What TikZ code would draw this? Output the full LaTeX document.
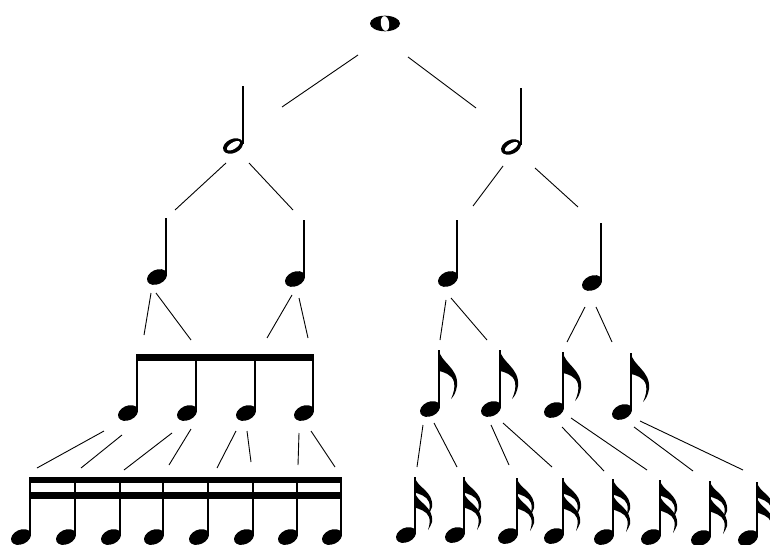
\documentclass[tikz,border=0pt]{standalone}
\begin{document}
\begin{tikzpicture}[x=1pt,y=-1pt,
  link/.style={line width=0.9pt},
  stemline/.style={line width=1.4pt},
  notehead/.pic={\fill[rotate=25] (0,0) ellipse (10.5 and 7.2);},
  hollowhead/.pic={\fill[rotate=25] (0,0) ellipse (10.5 and 7);
                   \fill[white,rotate=32] (0.5,0) ellipse (7.4 and 3.2);},
  qnote/.pic={\path (-9,0) pic {notehead}; \draw[stemline] (0,-2) -- (0,-#1);},
  hnote/.pic={\path (-10,0) pic {hollowhead}; \draw[stemline] (0,-2) -- (0,-#1);},
  flagone/.pic={\fill (0,0) .. controls (1,12) and (20,18) .. (18,36)
                 .. controls (17,42) and (15,46) .. (12,49)
                 .. controls (15,42) and (16,38) .. (15,32)
                 .. controls (13,24) and (4,22) .. (0,21) -- cycle;},
  flagtwo/.pic={\fill (0,0) .. controls (1,10) and (19,14) .. (17,30)
                 .. controls (16,33) and (15,35) .. (13,38)
                 .. controls (15,32) and (15,28) .. (14,25)
                 .. controls (12,19) and (4,17) .. (0,15.5) -- cycle;}
]
\useasboundingbox (0,0) rectangle (770,545);
\clip (0,0) rectangle (770,545);

% whole note
\coordinate (w) at (385,23.5);
\fill (w) ellipse (15 and 7.8);
\fill[white,rotate around={8:(w)}] (w) ellipse (4.2 and 7.4);

% half notes
\pic (h1) at (243,146) {hnote=60};
\pic (h2) at (521,147) {hnote=59};

% quarter notes
\pic (q1) at (166,277) {qnote=59};
\pic (q2) at (304,279) {qnote=59};
\pic (q3) at (457,279) {qnote=59};
\pic (q4) at (601,283) {qnote=60};

% beamed eighths
\fill (136,354) rectangle (314,361);
\foreach \s [count=\i] in {137,196,255,313}{
  \pic (eb\i) at (\s,413) {qnote=59};
}

% flagged eighths (stem x / head y / stem top y / stem length)
\foreach \s/\h/\t/\L [count=\i] in {439/409/350/59,500/409/350/59,563/410/352/58,631/412/353/59}{
  \pic (ef\i) at (\s,\h) {qnote=\L};
  \pic (efl\i) at (\s,\t) {flagone};
}

% beamed sixteenths
\fill (29,477) rectangle (342,483);
\fill (29,492) rectangle (342,499);
\foreach \s [count=\i] in {30,75,120,163,208,253,297,341}{
  \pic (sb\i) at (\s,537) {qnote=60};
}

% flagged sixteenths
\foreach \s/\h/\t/\u/\L [count=\i] in {415/535/477/492/58,464/535/477/492/58,517/536/478/493/58,563/536/478/493/58,613/537/479/494/58,660/537/480/495/57,710/538/481/496/57,757/538/482/497/56}{
  \pic (sf\i) at (\s,\h) {qnote=\L};
  \pic (sfa\i) at (\s,\t) {flagtwo};
  \pic (sfb\i) at (\s,\u) {flagtwo};
}

% connectors
\foreach \n/\a/\b/\c/\d in {
  wa/358/55/282/107, wb/408/57/476/108,
  ha/226/163/175/210, hb/249/163/293/210,
  hc/503/166/473/206, hd/535/168/578/207,
  qa/151/293/144/335, qb/156/293/191/340,
  qc/292/295/267/338, qd/299/298/308/338,
  qe/446/300/440/340, qf/451/298/487/340,
  qg/585/307/567/342, qh/596/307/612/342,
  ea/104/431/37/468, eb/122/435/81/468,
  ec/172/433/124/470, ed/191/429/169/465,
  ee/236/431/217/468, ef/247/431/251/462,
  eg/299/433/298/465, eh/311/431/335/467,
  ei/423/425/417/467, ej/434/423/457/467,
  ek/491/425/509/465, el/503/423/552/467,
  em/562/427/604/471, en/571/418/647/470,
  eo/634/427/693/471, ep/640/421/743/470}{
  \coordinate (\n-s) at (\a,\b);
  \coordinate (\n-e) at (\c,\d);
  \draw[link] (\n-s) -- (\n-e);
}
\end{tikzpicture}
\end{document}
